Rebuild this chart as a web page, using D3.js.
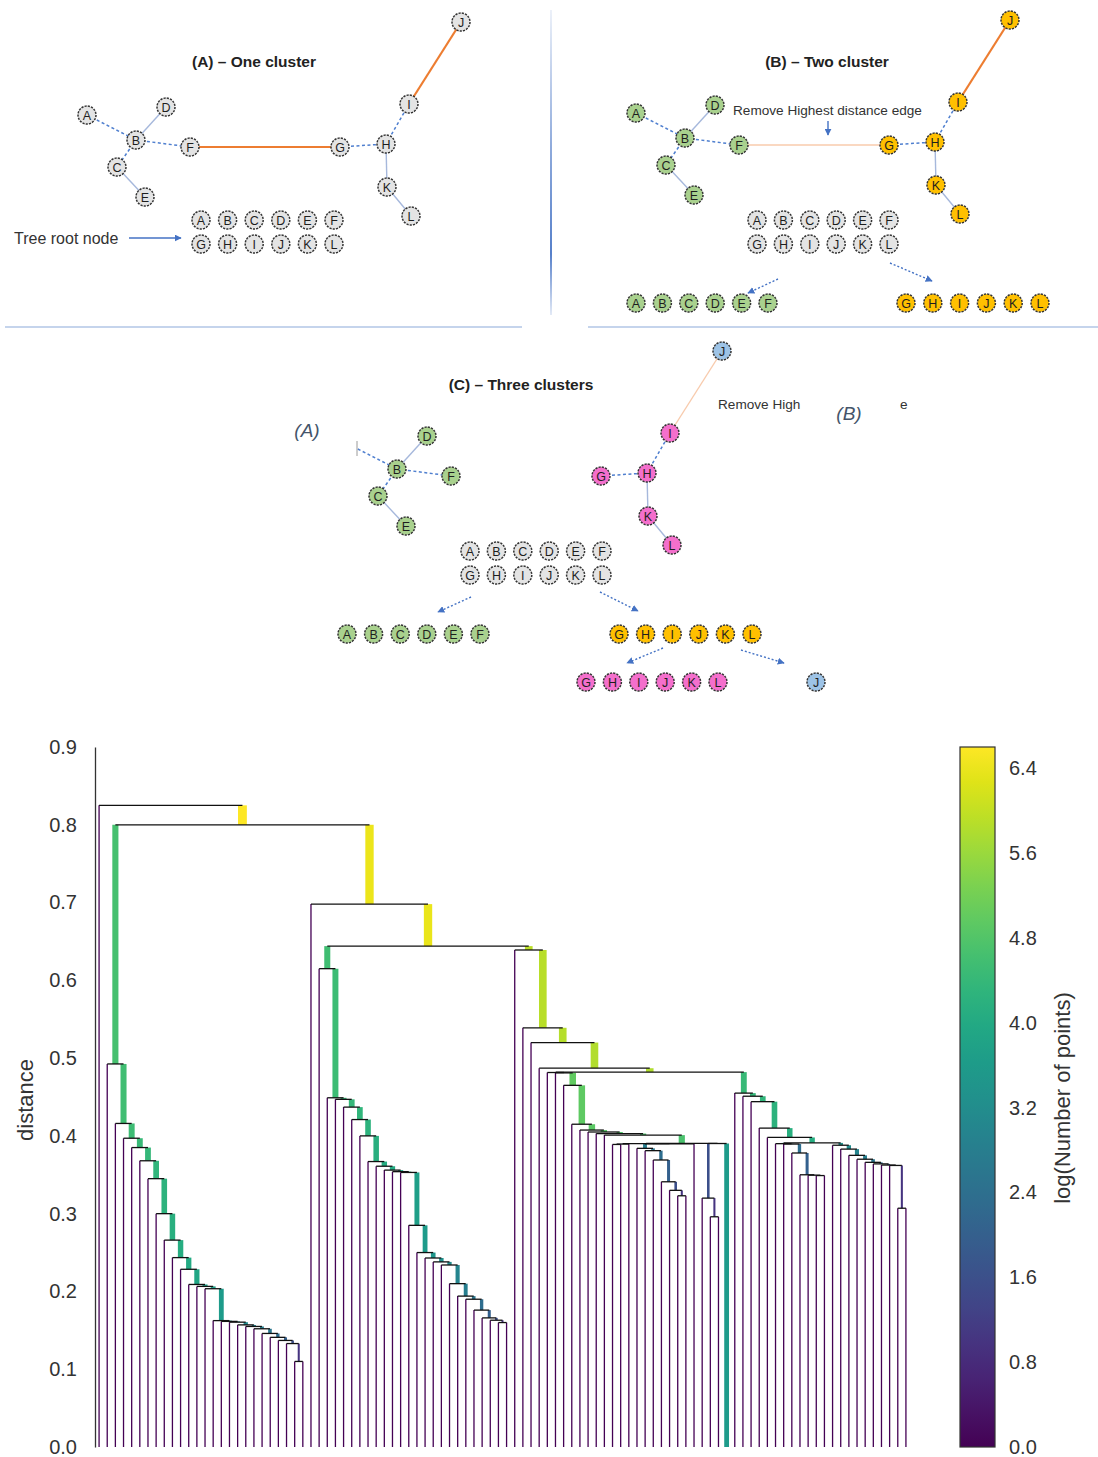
<!DOCTYPE html>
<html>
<head>
<meta charset="utf-8">
<script src="https://cdn.jsdelivr.net/npm/d3@7"></script>
<style>
  html, body { margin: 0; padding: 0; background: #fff; }
  svg { display: block; }
</style>
</head>
<body>
<svg id="fig" width="1098" height="1457"></svg>
<script>
// ---------------- single-linkage tree: merge distances ----------------
const rootHeight = 0.825;
const upperMerges = [0.800, 0.698, 0.644];          // merges joining the three main groups
const clusterAHeights = [0.4925, 0.416, 0.397, 0.385, 0.368, 0.345, 0.300, 0.266, 0.2435, 0.2285,
  0.209, 0.2065, 0.2035, 0.1625, 0.1615, 0.1605, 0.157, 0.155, 0.152, 0.146, 0.141, 0.137, 0.133, 0.110];
const clusterBHeights = [0.615, 0.449, 0.447, 0.437, 0.421, 0.400, 0.367, 0.361, 0.356, 0.354, 0.353,
  0.285, 0.250, 0.243, 0.238, 0.234, 0.210, 0.194, 0.190, 0.176, 0.166, 0.163, 0.160];
const groupCHeights = [0.639, 0.539, 0.520, 0.487];
const splitCD = 0.482;
const groupKHeights = [0.4815, 0.481, 0.465, 0.415, 0.4075, 0.405, 0.403, 0.401];
const flatHeights = [0.3905, 0.3902, 0.3900, 0.3898, 0.3895, 0.3890];
const groupHHeights = [0.384, 0.381, 0.369, 0.341, 0.330, 0.323];
const groupGHeights = [0.320, 0.296];
const groupDHeights = [0.455, 0.451, 0.444, 0.410, 0.398];
const splitD6Heights = [0.391, 0.390, 0.3895];
const groupD7Heights = [0.378, 0.350, 0.3495, 0.349];
const tailHeights = [0.388, 0.383, 0.375, 0.370, 0.366, 0.364, 0.3625, 0.362, 0.307];
const denseLeafPoints = 12;                          // the one leaf holding many points
const distanceTicks = [0, 0.1, 0.2, 0.3, 0.4, 0.5, 0.6, 0.7, 0.8, 0.9];
const colorbarTicks = [0, 0.8, 1.6, 2.4, 3.2, 4.0, 4.8, 5.6, 6.4];
const colorMax = 6.6;

// ---------------- MST illustration ----------------
const pointLetters = ["A", "B", "C", "D", "E", "F", "G", "H", "I", "J", "K", "L"];
const mstEdges = [
  ["A", "B", "dash"], ["B", "D", "solid"], ["B", "C", "dash"], ["C", "E", "solid"],
  ["B", "F", "dash"], ["F", "G", "cut"], ["G", "H", "dash"], ["H", "I", "dash"],
  ["I", "J", "long"], ["H", "K", "solid"], ["K", "L", "solid"]
];

// ---------------- build the tree ----------------
const leaf = (n = 1) => ({ n });
const merge = (h, a, b) => ({ h, children: [a, b] });
function chain(hs, tail) {
  // each merge joins one single point on the left with the rest on the right
  let node = tail;
  for (let i = hs.length - 1; i >= 0; i--) node = merge(hs[i], leaf(), node);
  return node;
}
const groupH = chain(groupHHeights, leaf());
const groupG = chain(groupGHeights, leaf());
const flat = merge(flatHeights[0],
  merge(flatHeights[2],
    merge(flatHeights[4], merge(flatHeights[5], leaf(), leaf()), leaf()),
    merge(flatHeights[3], groupH, leaf())),
  merge(flatHeights[1], groupG, leaf(denseLeafPoints)));
const groupK = chain(groupKHeights, flat);
const groupD7 = chain(groupD7Heights, leaf());
const splitD6 = merge(splitD6Heights[0],
  merge(splitD6Heights[1], leaf(), merge(splitD6Heights[2], leaf(), groupD7)),
  chain(tailHeights, leaf()));
const groupD = chain(groupDHeights, splitD6);
const groupC = chain(groupCHeights, merge(splitCD, groupK, groupD));
const clusterA = chain(clusterAHeights, leaf());
const clusterB = chain(clusterBHeights, leaf());
const tree = merge(rootHeight, leaf(),
  merge(upperMerges[0], clusterA,
    merge(upperMerges[1], leaf(), merge(upperMerges[2], clusterB, groupC))));

const svg = d3.select("#fig");
const defs = svg.append("defs");
const FONT = "'Liberation Sans', Arial, sans-serif";

// ================= dendrogram =================
const root = d3.hierarchy(tree).sum(d => d.children ? 0 : d.n);
const leaves = root.leaves();
const N = leaves.length;
const plotLeft = 95, leafStep = 8.15;
const x = d3.scaleLinear().domain([0, 10 * N]).range([plotLeft, plotLeft + N * leafStep]);
const y = d3.scaleLinear().domain([0, 0.9]).range([1447, 747]);
const color = d3.scaleSequential(d3.interpolateViridis).domain([0, colorMax]).clamp(true);
const pt = 1.3;

leaves.forEach((l, i) => { l.px = x(10 * i + 5); });
root.eachAfter(d => {
  d.hgt = d.data.h || 0;
  if (d.children) d.px = d3.mean(d.children, c => c.px);
});

const dg = svg.append("g");
const branches = root.descendants().filter(d => d.parent);
dg.selectAll("line.v").data(branches).join("line")
  .attr("class", "v")
  .attr("x1", d => d.px).attr("x2", d => d.px)
  .attr("y1", d => y(d.hgt)).attr("y2", d => y(d.parent.hgt))
  .attr("stroke", d => color(Math.log2(d.value)))
  .attr("stroke-width", d => Math.log2(1 + d.value) * pt)
  .attr("stroke-linecap", "butt");
dg.selectAll("line.h").data(root.descendants().filter(d => d.children)).join("line")
  .attr("class", "h")
  .attr("x1", d => d.children[0].px).attr("x2", d => d.children[1].px)
  .attr("y1", d => y(d.hgt)).attr("y2", d => y(d.hgt))
  .attr("stroke", "#111").attr("stroke-width", pt);

// distance axis
svg.append("g").attr("transform", `translate(${plotLeft},0)`)
  .call(d3.axisLeft(y).tickValues(distanceTicks).tickSize(0).tickSizeOuter(0)
    .tickPadding(18).tickFormat(d3.format(".1f")))
  .call(g => g.select(".domain").attr("stroke", "#333").attr("stroke-width", 1.3))
  .call(g => g.selectAll("text").attr("font-size", 20).attr("font-family", FONT).attr("fill", "#333"));
svg.append("text").attr("transform", "translate(33,1100) rotate(-90)")
  .attr("text-anchor", "middle").attr("font-family", FONT).attr("font-size", 22).attr("fill", "#333")
  .text("distance");

// colorbar
const cbX = 960, cbW = 35;
const cy = d3.scaleLinear().domain([0, colorMax]).range([1447, 747]);
const grad = defs.append("linearGradient").attr("id", "viridisBar")
  .attr("x1", 0).attr("y1", 1).attr("x2", 0).attr("y2", 0);
d3.range(0, 1.0001, 0.05).forEach(t => grad.append("stop").attr("offset", t).attr("stop-color", d3.interpolateViridis(t)));
svg.append("rect").attr("x", cbX).attr("y", cy(colorMax)).attr("width", cbW).attr("height", cy(0) - cy(colorMax))
  .attr("fill", "url(#viridisBar)").attr("stroke", "#333").attr("stroke-width", 1.2);
svg.append("g").attr("transform", `translate(${cbX + cbW},0)`)
  .call(d3.axisRight(cy).tickValues(colorbarTicks).tickSize(0).tickPadding(14).tickFormat(d3.format(".1f")))
  .call(g => g.select(".domain").remove())
  .call(g => g.selectAll("text").attr("font-size", 20).attr("font-family", FONT).attr("fill", "#333"));
svg.append("text").attr("transform", "translate(1070,1098) rotate(-90)")
  .attr("text-anchor", "middle").attr("font-family", FONT).attr("font-size", 22).attr("fill", "#333")
  .text("log(Number of points)");

// ================= MST illustration =================
const shape = {
  A: [87, 115], B: [136, 140], C: [117, 167], D: [166, 107], E: [145, 197], F: [190, 147],
  G: [340, 147], H: [386, 144], I: [409, 104], J: [461, 22], K: [387, 187], L: [411, 216]
};
const fills = { gray: "#e4e4e4", green: "#a9d18e", yellow: "#ffc000", pink: "#f46fcc", blue: "#9dc3e6" };
const edgeLook = {
  dash: { stroke: "#4f7fcf", w: 1.5, dash: "3,2.5" },
  solid: { stroke: "#a6b8dc", w: 1.4, dash: null },
  orange: { stroke: "#ed7d31", w: 2.2, dash: null },
  pale: { stroke: "#f8cbad", w: 1.4, dash: null }
};

defs.append("marker").attr("id", "arrowHead").attr("viewBox", "0 0 10 10")
  .attr("refX", 9).attr("refY", 5).attr("markerWidth", 5).attr("markerHeight", 5)
  .attr("orient", "auto").attr("markerUnits", "strokeWidth")
  .append("path").attr("d", "M0,0L10,5L0,10z").attr("fill", "#4472c4");

const ill = svg.append("g");

function token(g, cx, cyy, letter, fill) {
  g.append("circle").attr("cx", cx).attr("cy", cyy).attr("r", 9)
    .attr("fill", fill).attr("stroke", "#333").attr("stroke-width", 1.5).attr("stroke-dasharray", "2.2,1.1");
  g.append("text").attr("x", cx).attr("y", cyy).attr("dy", "0.36em").attr("text-anchor", "middle")
    .attr("font-family", FONT).attr("font-size", 12.5).attr("fill", "#1e1e1e").text(letter);
}
function tokenRow(g, letters, x0, y0, step, fillOf) {
  letters.forEach((k, i) => token(g, x0 + i * step, y0, k, fillOf(k)));
}
function arrow(g, x1, y1, x2, y2, dotted = true) {
  g.append("line").attr("x1", x1).attr("y1", y1).attr("x2", x2).attr("y2", y2)
    .attr("stroke", "#4472c4").attr("stroke-width", 1.4)
    .attr("stroke-dasharray", dotted ? "2,2" : null)
    .attr("marker-end", "url(#arrowHead)");
}
function mst(g, off, styleOf, fillOf, hidden = []) {
  const p = k => [shape[k][0] + off[0], shape[k][1] + off[1]];
  mstEdges.forEach(([a, b, kind]) => {
    const look = edgeLook[styleOf(kind)];
    if (!look) return;
    const [x1, y1] = p(a), [x2, y2] = p(b);
    g.append("line").attr("x1", x1).attr("y1", y1).attr("x2", x2).attr("y2", y2)
      .attr("stroke", look.stroke).attr("stroke-width", look.w).attr("stroke-dasharray", look.dash);
  });
  pointLetters.filter(k => !hidden.includes(k)).forEach(k => token(g, ...p(k), k, fillOf(k)));
}
const leftSet = ["A", "B", "C", "D", "E", "F"], rightSet = ["G", "H", "I", "J", "K", "L"];
const isLeft = k => leftSet.includes(k);
const title = (g, tx, ty, s) => g.append("text").attr("x", tx).attr("y", ty).attr("text-anchor", "middle")
  .attr("font-family", FONT).attr("font-weight", "bold").attr("font-size", 15.5).attr("fill", "#222").text(s);
const note = (g, tx, ty, s, size) => g.append("text").attr("x", tx).attr("y", ty)
  .attr("font-family", FONT).attr("font-size", size).attr("fill", "#333").text(s);

// panel (A)
const pA = ill.append("g");
title(pA, 254, 67, "(A) – One cluster");
mst(pA, [0, 0], k => ({ cut: "orange", long: "orange" }[k] || k), () => fills.gray);
tokenRow(pA, leftSet, 201, 220, 26.6, () => fills.gray);
tokenRow(pA, rightSet, 201, 244, 26.6, () => fills.gray);
note(pA, 14, 244, "Tree root node", 16);
arrow(pA, 129, 238, 181, 238, false);

// panel (B)
const pB = ill.append("g");
title(pB, 827, 67, "(B) – Two cluster");
mst(pB, [549, -2], k => ({ cut: "pale", long: "orange" }[k] || k), k => isLeft(k) ? fills.green : fills.yellow);
note(pB, 733, 115, "Remove Highest distance edge", 13.6);
arrow(pB, 828, 121, 828, 135, false);
tokenRow(pB, leftSet, 757, 220, 26.4, () => fills.gray);
tokenRow(pB, rightSet, 757, 244, 26.4, () => fills.gray);
arrow(pB, 778, 279, 748, 293);
arrow(pB, 890, 263, 932, 281);
tokenRow(pB, leftSet, 636, 303, 26.4, () => fills.green);
tokenRow(pB, rightSet, 906, 303, 26.8, () => fills.yellow);

// separators
const sepGrad = defs.append("linearGradient").attr("id", "sepGrad").attr("gradientUnits", "userSpaceOnUse")
  .attr("x1", 0).attr("y1", 10).attr("x2", 0).attr("y2", 315);
[[0, 0.1], [0.45, 0.6], [0.8, 0.9], [1, 0.15]].forEach(([o, a]) =>
  sepGrad.append("stop").attr("offset", o).attr("stop-color", "#4472c4").attr("stop-opacity", a));
ill.append("line").attr("x1", 551).attr("x2", 551).attr("y1", 10).attr("y2", 315)
  .attr("stroke", "url(#sepGrad)").attr("stroke-width", 2);
ill.append("line").attr("x1", 5).attr("x2", 522).attr("y1", 327).attr("y2", 327)
  .attr("stroke", "#c5d4ec").attr("stroke-width", 1.8);
ill.append("line").attr("x1", 588).attr("x2", 1098).attr("y1", 327).attr("y2", 327)
  .attr("stroke", "#c5d4ec").attr("stroke-width", 1.8);

// panel (C)
const pC = ill.append("g");
title(pC, 521, 390, "(C) – Three clusters");
const clipC = defs.append("clipPath").attr("id", "clipC");
clipC.append("rect").attr("x", 357).attr("y", 330).attr("width", 500).attr("height", 240);
const treeC = pC.append("g").attr("clip-path", "url(#clipC)");
mst(treeC, [261, 329], k => ({ cut: null, long: "pale" }[k] || k),
  k => isLeft(k) ? fills.green : (k === "J" ? fills.blue : fills.pink), ["A"]);
pC.append("line").attr("x1", 357).attr("x2", 357).attr("y1", 441).attr("y2", 456)
  .attr("stroke", "#9a9a9a").attr("stroke-width", 1);
// the edge caption is partly hidden behind the (B) marker: only its ends remain
note(pC, 718, 409, "Remove High", 13.6);
note(pC, 900, 409, "e", 13.6);
pC.append("text").attr("x", 307).attr("y", 437).attr("text-anchor", "middle").attr("font-family", FONT)
  .attr("font-style", "italic").attr("font-size", 19).attr("fill", "#44546a").text("(A)");
pC.append("text").attr("x", 849).attr("y", 420).attr("text-anchor", "middle").attr("font-family", FONT)
  .attr("font-style", "italic").attr("font-size", 19).attr("fill", "#44546a").text("(B)");
tokenRow(pC, leftSet, 470, 551, 26.4, () => fills.gray);
tokenRow(pC, rightSet, 470, 575, 26.4, () => fills.gray);
arrow(pC, 471, 597, 438, 612);
arrow(pC, 600, 592, 638, 611);
tokenRow(pC, leftSet, 347, 634, 26.6, () => fills.green);
tokenRow(pC, rightSet, 619, 634, 26.6, () => fills.yellow);
arrow(pC, 663, 648, 627, 663);
arrow(pC, 741, 650, 784, 663);
tokenRow(pC, rightSet, 586, 682, 26.4, () => fills.pink);
token(pC, 816, 682, "J", fills.blue);
</script>
</body>
</html>
